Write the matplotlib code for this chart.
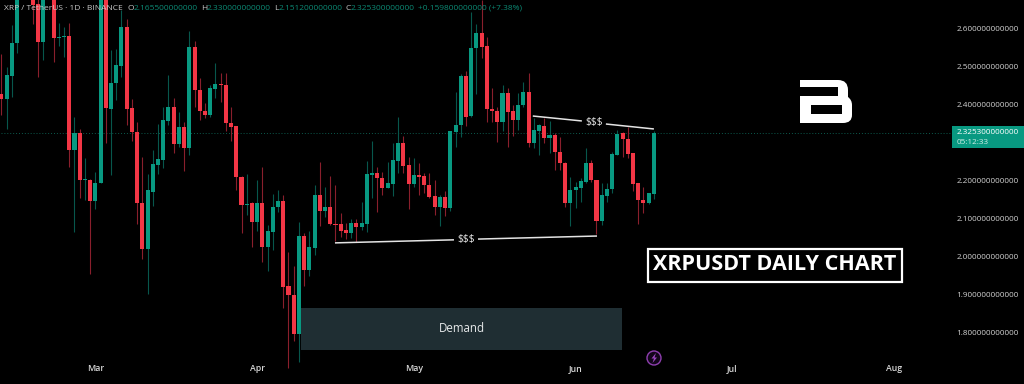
import matplotlib
matplotlib.use("Agg")
import matplotlib.pyplot as plt
from matplotlib.patches import Rectangle, Circle, PathPatch, Polygon
from matplotlib.path import Path
from matplotlib.transforms import Affine2D

opens = [2.427,2.414,2.474,2.561,2.72,2.80,2.72,2.663,2.563,2.78,
         2.72,2.574,2.576,2.579,2.280,2.324,2.201,2.201,2.146,2.193,
         2.72,2.387,2.456,2.500,2.603,2.390,2.327,2.141,2.020,2.170,
         2.240,2.254,2.356,2.393,2.296,2.340,2.285,2.550,2.437,2.382,
         2.372,2.440,2.453,2.450,2.351,2.343,2.209,2.135,2.141,2.091,
         2.141,2.025,2.065,2.130,2.146,1.923,1.899,1.797,2.054,1.965,
         2.023,2.162,2.120,2.130,2.086,2.086,2.070,2.062,2.088,2.078,
         2.086,2.214,2.219,2.206,2.180,2.191,2.251,2.298,2.240,2.191,
         2.214,2.212,2.188,2.159,2.130,2.156,2.128,2.327,2.345,2.474,
         2.369,2.548,2.587,2.553,2.387,2.382,2.353,2.430,2.382,2.359,
         2.398,2.432,2.298,2.330,2.343,2.311,2.319,2.275,2.246,2.141,
         2.175,2.180,2.196,2.246,2.201,2.094,2.159,2.177,2.267,2.324,
         2.309,2.272,2.193,2.149,2.141,2.1655]
highs = [2.532,2.498,2.608,2.76,2.82,2.83,2.75,2.69,2.74,2.80,
         2.75,2.613,2.603,2.613,2.366,2.335,2.259,2.204,2.222,2.75,
         2.75,2.542,2.545,2.647,2.624,2.414,2.353,2.261,2.217,2.280,
         2.348,2.393,2.477,2.416,2.380,2.353,2.592,2.566,2.469,2.403,
         2.450,2.508,2.482,2.482,2.393,2.343,2.212,2.217,2.143,2.201,
         2.235,2.083,2.164,2.175,2.162,2.012,1.975,2.091,2.062,2.067,
         2.188,2.248,2.183,2.212,2.188,2.114,2.088,2.099,2.099,2.143,
         2.251,2.303,2.235,2.222,2.248,2.298,2.366,2.317,2.261,2.259,
         2.246,2.219,2.219,2.201,2.162,2.172,2.330,2.432,2.479,2.487,
         2.642,2.610,2.673,2.576,2.443,2.393,2.450,2.443,2.398,2.429,
         2.458,2.482,2.364,2.348,2.364,2.356,2.324,2.314,2.248,2.209,
         2.196,2.206,2.285,2.254,2.201,2.193,2.193,2.275,2.332,2.327,
         2.340,2.272,2.193,2.183,2.167,2.33]
lows = [2.372,2.335,2.419,2.534,2.68,2.69,2.610,2.471,2.516,2.69,
        2.511,2.553,2.524,2.235,2.065,2.154,2.149,1.954,2.125,2.193,
        2.298,2.214,2.411,2.471,2.345,2.303,2.086,1.994,1.902,2.133,
        2.217,2.233,2.345,2.272,2.288,2.225,2.267,2.393,2.359,2.364,
        2.366,2.416,2.406,2.330,2.303,2.175,2.062,2.109,2.025,2.067,
        1.986,1.962,2.017,2.117,1.865,1.708,1.778,1.723,1.923,1.949,
        2.004,2.080,2.104,2.083,2.041,2.051,2.046,2.049,2.038,2.070,
        2.065,2.154,2.117,2.162,2.180,2.159,2.220,2.220,2.125,2.183,
        2.162,2.167,2.154,2.109,2.080,2.107,2.120,2.288,2.314,2.343,
        2.366,2.427,2.521,2.353,2.353,2.301,2.330,2.288,2.317,2.332,
        2.393,2.288,2.285,2.267,2.298,2.272,2.227,2.227,2.130,2.080,
        2.128,2.143,2.193,2.196,2.059,2.083,2.143,2.167,2.267,2.261,
        2.259,2.172,2.086,2.114,2.138,2.1512]
closes = [2.414,2.477,2.561,2.72,2.78,2.74,2.660,2.563,2.70,2.72,
          2.574,2.577,2.579,2.280,2.324,2.201,2.203,2.146,2.193,2.72,
          2.390,2.456,2.503,2.603,2.387,2.327,2.141,2.020,2.175,2.243,
          2.256,2.359,2.393,2.296,2.340,2.285,2.550,2.437,2.382,2.372,
          2.443,2.453,2.450,2.351,2.340,2.209,2.135,2.138,2.091,2.141,
          2.025,2.067,2.130,2.146,1.920,1.899,1.797,2.054,1.965,2.025,
          2.162,2.120,2.130,2.086,2.083,2.067,2.062,2.088,2.078,2.088,
          2.217,2.219,2.206,2.180,2.193,2.254,2.298,2.238,2.191,2.214,
          2.209,2.188,2.156,2.130,2.156,2.128,2.330,2.345,2.474,2.366,
          2.548,2.587,2.550,2.387,2.382,2.353,2.430,2.380,2.359,2.398,
          2.432,2.298,2.332,2.345,2.311,2.319,2.275,2.246,2.141,2.175,
          2.183,2.198,2.246,2.201,2.094,2.162,2.177,2.269,2.322,2.309,
          2.269,2.191,2.149,2.141,2.167,2.3253]

price_ticks = [1.8, 1.9, 2.0, 2.1, 2.2, 2.4, 2.5, 2.6]
price_labels = ["1.800000000000","1.900000000000","2.000000000000","2.100000000000",
                "2.200000000000","2.400000000000","2.500000000000","2.600000000000"]
month_ticks = [18, 49, 79, 110, 140, 171]
month_labels = ["Mar","Apr","May","Jun","Jul","Aug"]
last_price = 2.3253
demand_zone = (57.4, 118.9, 1.755, 1.865)
liq_low = [([63.9, 86.7], [2.036, 2.044]), ([91.3, 114.1], [2.046, 2.054])]
liq_high = [([101.8, 111.2], [2.369, 2.356]), ([115.8, 125.0], [2.348, 2.335])]

UP, DOWN = "#089981", "#f23645"
UP_W, DOWN_W = "#07574c", "#8a1f2c"
FONT = "Open Sans"
W, H = 1024, 384

fig = plt.figure(figsize=(W/100, H/100), dpi=100, facecolor="black")
ax = fig.add_axes([0, 0, 1, 1], facecolor="black")
ax.set_xlim(-0.268, 195.9)
ax.set_ylim(1.6656, 2.6735)
for s in ax.spines.values():
    s.set_visible(False)

# pixel-space helper for overlay furniture
px = Affine2D().scale(1/W, -1/H).translate(0, 1) + fig.transFigure

xs = list(range(len(opens)))
ax.add_patch(Rectangle((demand_zone[0], demand_zone[2]), demand_zone[1]-demand_zone[0],
                       demand_zone[3]-demand_zone[2], fc="#1f2e33", ec="none", zorder=1))
ax.text((demand_zone[0]+demand_zone[1])/2, 1.81, "Demand", color="#e6e9ea", ha="center",
        va="center", fontsize=8.3, family="Open Sans", zorder=6)

ax.plot([0, 182], [last_price]*2, color="#0c5a4d", lw=0.7, ls=(0, (1, 2)), zorder=1)

up = [c >= o for o, c in zip(opens, closes)]
ax.vlines(xs, lows, highs, colors=[UP_W if u else DOWN_W for u in up], lw=0.8, zorder=2)
ax.bar(xs, [abs(c-o) for o, c in zip(opens, closes)], bottom=[min(o, c) for o, c in zip(opens, closes)],
       width=0.78, color=[UP if u else DOWN for u in up], linewidth=0, zorder=3)

for lx, ly in liq_low + liq_high:
    ax.plot(lx, ly, color="#e4e4e4", lw=1.1, solid_capstyle="butt", zorder=5)
ax.text(89.0, 2.044, "$$$", color="#e8e8e8", ha="center", va="center", fontsize=7.5, family="Open Sans", zorder=6)
ax.text(113.5, 2.353, "$$$", color="#e8e8e8", ha="center", va="center", fontsize=7.5, family="Open Sans", zorder=6)

ax.set_yticks(price_ticks, price_labels)
ax.yaxis.tick_right()
ax.tick_params(axis="y", length=0, pad=-48.5, labelcolor="#d2d2d2", labelsize=5.9)
ax.set_xticks(month_ticks, month_labels)
ax.tick_params(axis="x", length=0, pad=-14.2, labelcolor="#d8d8d8", labelsize=6.3)
for lab in ax.get_xticklabels()+ax.get_yticklabels():
    lab.set_family(FONT)
for lab in ax.get_xticklabels():
    lab.set_fontweight("semibold")
for lab in ax.get_yticklabels():
    lab.set_ha("left")

# last price tag
fig.add_artist(Rectangle((952, 126), 72, 22, transform=px, fc=UP, ec="none"))
fig.text(957, 132, "2.325300000000", transform=px, color="white", fontsize=5.9, family=FONT, va="center")
fig.text(957, 142.5, "05:12:33", transform=px, color="#cfeee7", fontsize=5.9, family=FONT, va="center")

# legend header
def head(x, s, c):
    fig.text(x, 8, s, transform=px, color=c, fontsize=6.0, family=FONT, va="center")
GRY, GRN = "#c9c9c9", "#0c8a75"
head(4, "XRP / TetherUS · 1D · BINANCE", GRY)
for x, s in [(128, "O"), (201, "H"), (274, "L"), (345.5, "C")]:
    head(x, s, GRY)
for x, s in [(134, "2.165500000000"), (207, "2.330000000000"), (279, "2.151200000000"),
             (351, "2.325300000000"), (418, "+0.159800000000 (+7.38%)")]:
    head(x, s, GRN)

# title box
fig.add_artist(Rectangle((647.5, 248.5), 254, 33, transform=px, fc="black", ec="white", lw=1.6, zorder=7))
fig.text(774.5, 265, "XRPUSDT DAILY CHART", transform=px, color="white", fontsize=15.5, fontweight="bold",
         family="Open Sans", ha="center", va="center", zorder=8)

# logo
V, L, C = Path.MOVETO, Path.LINETO, Path.CURVE3
C4 = Path.CLOSEPOLY
verts = [(800,80),(838,80),(848,80),(848,90),(848,97),(852,100),(852,105),(852,115),(852,123),(843,123),
         (800,123),(800,96),(838,96),(838,87),(800,87),(800,80),
         (811,105),(811,114),(842,114),(842,105),(811,105)]
codes = [V,L,C,C,L,C,C,L,C,C,L,L,L,L,L,C4,V,L,L,L,C4]
fig.add_artist(PathPatch(Path(verts, codes), transform=px, fc="white", ec="none"))

# bolt badge
fig.add_artist(Circle((654, 358), 7, transform=px, fc="#12061a", ec="#8f3fb0", lw=1.0))
fig.add_artist(Polygon([(656,353),(651.5,358.5),(654,358.5),(652.5,363),(657,357.5),(654.5,357.5)],
                       transform=px, fc="#9c45c0", ec="none"))

fig.savefig("out.png", dpi=100, facecolor="black")
